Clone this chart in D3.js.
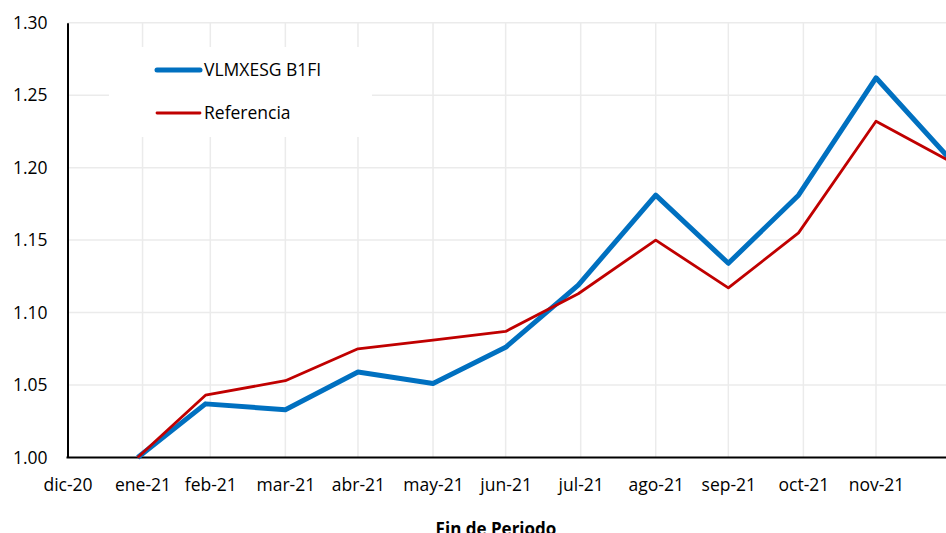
<!DOCTYPE html>
<html>
<head>
<meta charset="utf-8">
<script src="https://cdn.jsdelivr.net/npm/d3@7"></script>
<style>
  body { margin: 0; background: #fff; }
  svg { display: block; font-family: "Open Sans", sans-serif; }
</style>
</head>
<body>
<script>
// fechas de cierre (ultimo dia habil del mes)
const fechas = ["2021-01-29", "2021-02-26", "2021-03-31", "2021-04-30", "2021-05-31", "2021-06-30",
                "2021-07-30", "2021-08-31", "2021-09-30", "2021-10-29", "2021-11-30", "2021-12-31"];
const fondo = [1.000, 1.037, 1.033, 1.059, 1.051, 1.076, 1.119, 1.181, 1.134, 1.181, 1.262, 1.205];
const referencia = [1.000, 1.043, 1.053, 1.075, 1.081, 1.087, 1.113, 1.150, 1.117, 1.155, 1.232, 1.204];

const tickFechas = ["2020-12-31", "2021-01-31", "2021-02-28", "2021-03-31", "2021-04-30", "2021-05-31",
                    "2021-06-30", "2021-07-31", "2021-08-31", "2021-09-30", "2021-10-31", "2021-11-30"];
const tickLabels = ["dic-20", "ene-21", "feb-21", "mar-21", "abr-21", "may-21",
                    "jun-21", "jul-21", "ago-21", "sep-21", "oct-21", "nov-21"];
const yTicks = [1.00, 1.05, 1.10, 1.15, 1.20, 1.25, 1.30];

const series = [
  { name: "VLMXESG B1FI", values: fondo, color: "#0070C0", width: 5 },
  { name: "Referencia", values: referencia, color: "#C00000", width: 2.8 }
];

const width = 946, height = 533;
const parse = d3.timeParse("%Y-%m-%d");

const svg = d3.select("body").append("svg")
  .attr("width", width)
  .attr("height", height);

const x = d3.scaleTime()
  .domain([parse(tickFechas[0]), parse(tickFechas[tickFechas.length - 1])])
  .range([67.5, 876]);

const y = d3.scaleLinear()
  .domain([1.0, 1.3])
  .range([457.5, 22.7]);

// gridlines
svg.append("g")
  .selectAll("line")
  .data(yTicks.slice(1))
  .enter().append("line")
  .attr("x1", 67.5)
  .attr("x2", width)
  .attr("y1", d => y(d))
  .attr("y2", d => y(d))
  .attr("stroke", "#ebebeb")
  .attr("stroke-width", 1.5);

svg.append("g")
  .selectAll("line")
  .data(tickFechas.slice(1))
  .enter().append("line")
  .attr("x1", d => x(parse(d)))
  .attr("x2", d => x(parse(d)))
  .attr("y1", y(1.3))
  .attr("y2", y(1.0))
  .attr("stroke", "#ebebeb")
  .attr("stroke-width", 1.5);

// legend background
svg.append("rect")
  .attr("x", 109)
  .attr("y", 47)
  .attr("width", 263)
  .attr("height", 90)
  .attr("fill", "#fff");

// axes
const yAxis = svg.append("g")
  .attr("transform", "translate(67.5,0)")
  .call(d3.axisLeft(y).tickValues(yTicks).tickSize(0).tickPadding(20).tickFormat(d3.format(".2f")));
yAxis.select(".domain").attr("stroke", "#000").attr("stroke-width", 2);
yAxis.selectAll("text")
  .attr("font-size", "17.5px")
  .attr("fill", "#000")
  .attr("font-family", "Open Sans");

const xAxis = svg.append("g")
  .attr("transform", "translate(0," + y(1.0) + ")")
  .call(d3.axisBottom(x)
    .tickValues(tickFechas.map(parse))
    .tickSize(0)
    .tickPadding(21)
    .tickFormat((d, i) => tickLabels[i]));
xAxis.select(".domain").remove();
xAxis.append("line")
  .attr("x1", 66.5)
  .attr("x2", width)
  .attr("stroke", "#000")
  .attr("stroke-width", 2);
xAxis.selectAll("text")
  .attr("font-size", "17.5px")
  .attr("fill", "#000")
  .attr("font-family", "Open Sans");

// lines
const line = d3.line()
  .x((d, i) => x(parse(fechas[i])))
  .y(d => y(d));

svg.append("g")
  .selectAll("path")
  .data(series)
  .enter().append("path")
  .attr("d", d => line(d.values))
  .attr("fill", "none")
  .attr("stroke", d => d.color)
  .attr("stroke-width", d => d.width)
  .attr("stroke-linejoin", "round");

// legend
const legend = svg.append("g")
  .selectAll("g")
  .data(series)
  .enter().append("g")
  .attr("transform", (d, i) => "translate(157," + (70 + i * 43) + ")");
legend.append("line")
  .attr("x1", 0)
  .attr("x2", 43)
  .attr("stroke", d => d.color)
  .attr("stroke-width", d => d.width)
  .attr("stroke-linecap", "round");
legend.append("text")
  .attr("x", 47)
  .attr("dy", "0.35em")
  .attr("font-size", "17.5px")
  .text(d => d.name);

// axis title (cut at the bottom edge, as in the original)
svg.append("text")
  .attr("x", 496)
  .attr("y", 535)
  .attr("text-anchor", "middle")
  .attr("font-size", "17px")
  .attr("font-weight", "bold")
  .text("Fin de Periodo");
</script>
</body>
</html>
